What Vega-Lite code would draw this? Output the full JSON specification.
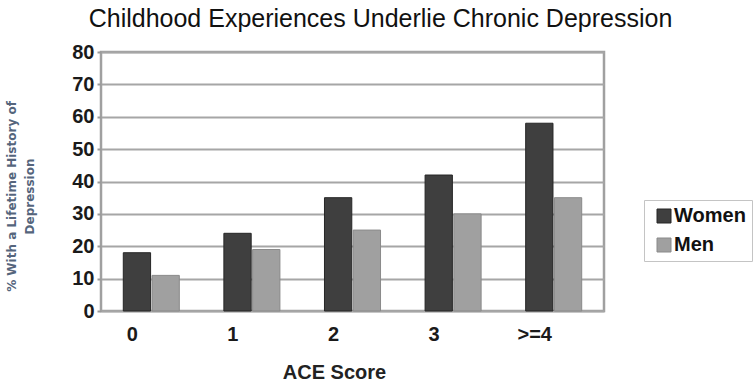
{
  "$schema": "https://vega.github.io/schema/vega-lite/v6.json",
  "autosize": {"type": "none"},
  "width": 503,
  "height": 259,
  "padding": {"left": 101, "top": 52, "right": 149, "bottom": 72},
  "background": "white",
  "title": {
    "text": "Childhood Experiences Underlie Chronic Depression",
    "font": "Liberation Sans",
    "fontSize": 25,
    "fontWeight": "normal",
    "color": "#111111",
    "anchor": "middle",
    "frame": "group",
    "dx": 28,
    "offset": 10
  },
  "data": {
    "values": [
      {"score": "0", "group": "Women", "pct": 18},
      {"score": "0", "group": "Men", "pct": 11},
      {"score": "1", "group": "Women", "pct": 24},
      {"score": "1", "group": "Men", "pct": 19},
      {"score": "2", "group": "Women", "pct": 35},
      {"score": "2", "group": "Men", "pct": 25},
      {"score": "3", "group": "Women", "pct": 42},
      {"score": "3", "group": "Men", "pct": 30},
      {"score": ">=4", "group": "Women", "pct": 58},
      {"score": ">=4", "group": "Men", "pct": 35}
    ]
  },
  "mark": {"type": "bar", "strokeWidth": 1},
  "encoding": {
    "x": {
      "field": "score",
      "type": "nominal",
      "sort": ["0", "1", "2", "3", ">=4"],
      "scale": {"paddingInner": 0.443, "paddingOuter": 0.2215},
      "axis": {
        "title": "ACE Score",
        "titleFontSize": 20,
        "titleFontWeight": "bold",
        "titleColor": "#222222",
        "titleX": 233,
        "titleY": 67,
        "titleBaseline": "alphabetic",
        "titleAlign": "center",
        "labelAngle": 0,
        "labelFontSize": 20,
        "labelFontWeight": "bold",
        "labelColor": "#1a1a1a",
        "labelPadding": 13,
        "labelOffset": -19,
        "ticks": false,
        "domain": false
      }
    },
    "xOffset": {
      "field": "group",
      "type": "nominal",
      "sort": ["Women", "Men"],
      "scale": {"paddingInner": 0.05}
    },
    "y": {
      "field": "pct",
      "type": "quantitative",
      "scale": {"domain": [0, 80], "nice": false},
      "axis": {
        "title": ["% With a Lifetime History of", "Depression"],
        "titleFont": "DejaVu Sans",
        "titleFontSize": 12,
        "titleFontWeight": "bold",
        "titleColor": "#55657c",
        "titleLineHeight": 18,
        "titleAngle": -90,
        "titleAlign": "center",
        "titleBaseline": "middle",
        "titleX": -90,
        "titleY": 144,
        "values": [0, 10, 20, 30, 40, 50, 60, 70, 80],
        "labelFontSize": 20,
        "labelFontWeight": "bold",
        "labelColor": "#1a1a1a",
        "labelPadding": 3,
        "tickSize": 4,
        "tickWidth": 2,
        "tickColor": "#9a9a9a",
        "grid": true,
        "gridColor": "#a6a6a6",
        "gridWidth": 2,
        "domain": false
      }
    },
    "fill": {
      "field": "group",
      "type": "nominal",
      "sort": ["Women", "Men"],
      "scale": {"domain": ["Women", "Men"], "range": ["#3f3f3f", "#a0a0a0"]},
      "legend": {
        "title": null,
        "orient": "none",
        "legendX": 543,
        "legendY": 148,
        "padding": 6,
        "strokeColor": "#c4c4c4",
        "fillColor": "white",
        "symbolType": "square",
        "symbolSize": 196,
        "symbolStrokeColor": "#333333",
        "symbolStrokeWidth": 1,
        "symbolOffset": 4,
        "labelFontSize": 20,
        "labelFontWeight": "bold",
        "labelColor": "#111111",
        "labelOffset": 0,
        "rowPadding": 9
      }
    },
    "stroke": {
      "field": "group",
      "type": "nominal",
      "scale": {"domain": ["Women", "Men"], "range": ["#262626", "#8a8a8a"]},
      "legend": null
    }
  },
  "config": {
    "font": "Liberation Sans",
    "view": {"stroke": "#a0a0a0", "strokeWidth": 2.5}
  }
}
